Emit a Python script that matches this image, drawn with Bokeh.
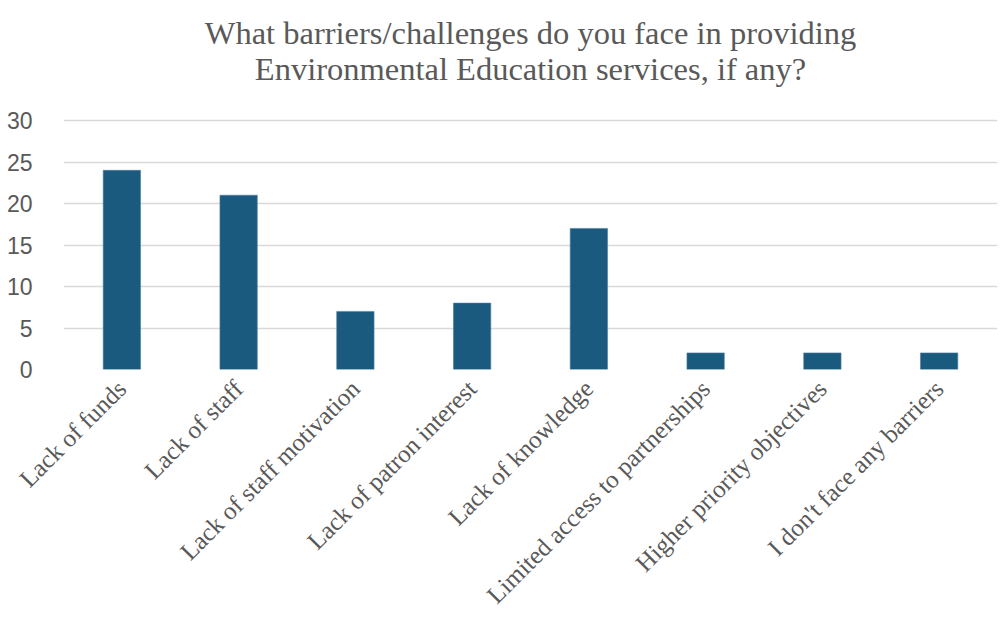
import math
from bokeh.plotting import figure
from bokeh.models import ColumnDataSource, FactorRange, Range1d, FixedTicker
from bokeh.core.properties import value
from bokeh.embed import file_html
from bokeh.resources import INLINE

categories = [
    "Lack of funds",
    "Lack of staff",
    "Lack of staff motivation",
    "Lack of patron interest",
    "Lack of knowledge",
    "Limited access to partnerships",
    "Higher priority objectives",
    "I don't face any barriers",
]
counts = [24, 21, 7, 8, 17, 2, 2, 2]
y_ticks = [0, 5, 10, 15, 20, 25, 30]

title_lines = [
    "What barriers/challenges do you face in providing",
    "Environmental Education services, if any?",
]

W, H = 1007, 622
BOTTOM = 253
FRAME_H = H - BOTTOM            # frame spans from canvas top to the zero line
TOP_TICK_PX = 120               # pixel row of the 30 gridline
Y_MAX = y_ticks[-1] * FRAME_H / (FRAME_H - TOP_TICK_PX)

source = ColumnDataSource(data=dict(cat=categories, val=counts))

p = figure(
    width=W, height=H,
    x_range=FactorRange(*categories, range_padding=0),
    y_range=Range1d(0, Y_MAX),
    output_backend="svg", toolbar_location=None,
    min_border_left=63, min_border_right=10,
    min_border_top=0, min_border_bottom=BOTTOM,
)
p.title = None
p.outline_line_color = None
p.background_fill_color = "white"
p.border_fill_color = "white"

p.vbar(x="cat", top="val", width=0.32, source=source,
       fill_color="#1b5a7f", line_color="#4f7fa0", line_width=0.6)

# chart title, two centred lines in the empty space above the 30 gridline
title_px = [32, 68]
title_src = ColumnDataSource(data=dict(
    x=[len(categories) / 2] * 2,
    y=[Y_MAX * (FRAME_H - t) / FRAME_H for t in title_px],
    text=title_lines,
))
p.text(x="x", y="y", text="text", source=title_src,
       text_align="center", text_baseline="middle",
       text_font=value("Liberation Serif"), text_font_size="32.5px",
       text_color="#595959")

# y axis
p.yaxis.ticker = FixedTicker(ticks=y_ticks)
p.yaxis.axis_line_color = None
p.yaxis.major_tick_line_color = None
p.yaxis.minor_tick_line_color = None
p.yaxis.major_label_text_font = "Liberation Sans"
p.yaxis.major_label_text_font_size = "23px"
p.yaxis.major_label_text_color = "#595959"
p.yaxis.major_label_standoff = 25

# x axis
p.xaxis.axis_line_color = None
p.xaxis.major_tick_line_color = None
p.xaxis.minor_tick_line_color = None
p.xaxis.major_label_orientation = math.pi / 4
p.xaxis.major_label_text_font = "Liberation Serif"
p.xaxis.major_label_text_font_size = "25px"
p.xaxis.major_label_text_color = "#595959"
p.xaxis.major_label_standoff = 9

p.xgrid.grid_line_color = None
p.ygrid.grid_line_color = "#d9d9d9"
p.ygrid.grid_line_width = 1.5

open("out.html", "w").write(file_html(p, INLINE))
